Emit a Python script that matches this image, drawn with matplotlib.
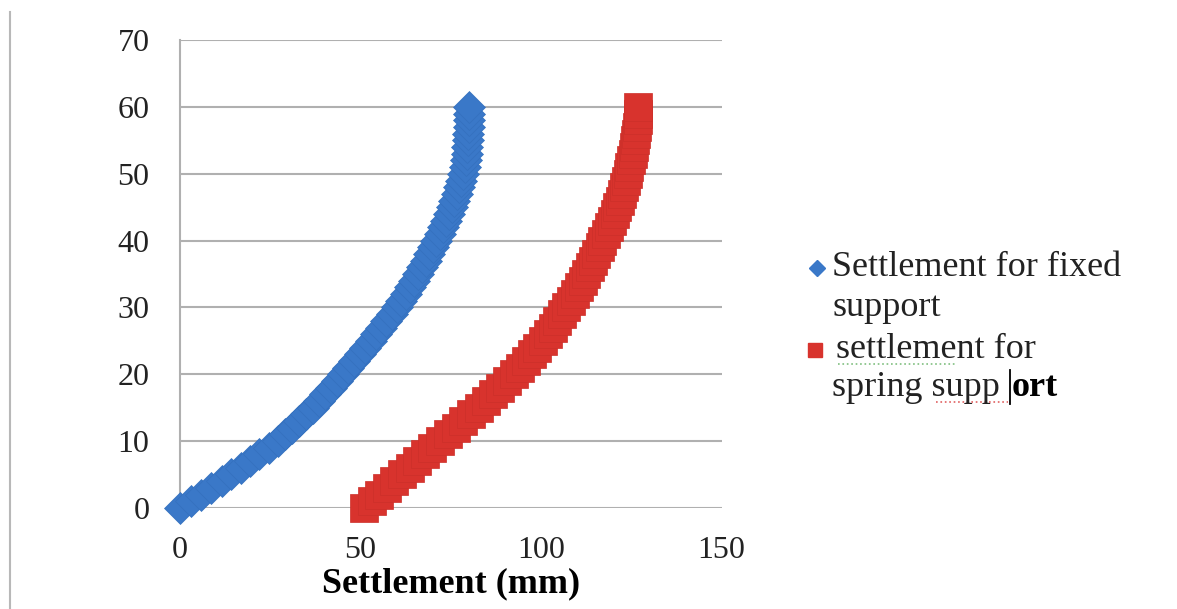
import matplotlib
matplotlib.use("Agg")
import matplotlib.pyplot as plt
from matplotlib.lines import Line2D

plt.rcParams["font.family"] = ["Liberation Serif", "DejaVu Serif"]

# Depth (y axis) and settlement values
depth = list(range(0, 61))

settle_fixed = [
    0.0, 3.0, 5.9, 8.7, 11.5, 14.2, 16.9, 19.5, 22.0, 24.5,
    27.0, 29.0, 31.0, 32.9, 34.8, 36.7, 38.5, 40.2, 41.9, 43.5,
    45.0, 46.6, 48.2, 49.8, 51.3, 52.8, 54.3, 55.7, 57.1, 58.6,
    60.0, 61.3, 62.5, 63.7, 64.9, 66.0, 67.1, 68.1, 69.1, 70.1,
    71.0, 71.9, 72.8, 73.6, 74.4, 75.2, 75.9, 76.6, 77.3, 77.9,
    78.4, 78.8, 79.1, 79.4, 79.6, 79.8, 79.9, 80.0, 80.0, 80.0,
    80.0,
]

settle_spring = [
    51.0, 53.1, 55.2, 57.3, 59.4, 61.5, 63.6, 65.7, 67.8, 69.9,
    72.0, 74.2, 76.4, 78.5, 80.6, 82.7, 84.7, 86.7, 88.7, 90.6,
    92.5, 94.2, 95.9, 97.5, 99.0, 100.5, 101.9, 103.2, 104.5, 105.8,
    107.0, 108.2, 109.3, 110.4, 111.5, 112.5, 113.5, 114.4, 115.3, 116.2,
    117.0, 117.9, 118.8, 119.6, 120.4, 121.1, 121.8, 122.4, 123.0, 123.5,
    124.0, 124.5, 125.0, 125.4, 125.8, 126.1, 126.4, 126.6, 126.8, 126.9,
    127.0,
]

x_ticks = [0, 50, 100, 150]
y_ticks = [0, 10, 20, 30, 40, 50, 60, 70]

BLUE = "#3A78C8"
RED = "#D8332D"

fig = plt.figure(figsize=(11.77, 6.09), dpi=100)
ax = fig.add_axes([0.153, 0.166, 0.460, 0.768])

# thick underlay fills the gaps between the dense markers
ax.plot(settle_fixed, depth, color=BLUE, linewidth=14, solid_capstyle="butt", zorder=2)
ax.plot(settle_spring, depth, color=RED, linewidth=17, solid_capstyle="butt", zorder=2)
ax.plot(settle_fixed, depth, linestyle="none", marker="D", markersize=16, clip_on=False,
        color=BLUE, markeredgecolor="#3470BE", markeredgewidth=0.5, zorder=3)
ax.plot(settle_spring, depth, linestyle="none", marker="s", markersize=20, clip_on=False,
        color=RED, markeredgecolor="#CC2F29", markeredgewidth=0.5, zorder=3)

ax.set_xlim(0, 150)
ax.set_ylim(0, 70)
ax.set_xticks(x_ticks)
ax.set_yticks(y_ticks)
ax.tick_params(axis="both", length=0, labelsize=23, colors="#222222")
ax.tick_params(axis="y", pad=22)
ax.tick_params(axis="x", pad=20)
ax.grid(axis="y", color="#b0b0b0", linewidth=1.5)
ax.set_axisbelow(True)
for side in ["top", "right", "bottom"]:
    ax.spines[side].set_visible(False)
ax.spines["left"].set_color("#b0b0b0")
ax.spines["left"].set_linewidth(1.5)

ax.set_xlabel("Settlement (mm)", fontsize=26, fontweight="bold", labelpad=2)

# Legend drawn by hand to keep its line breaks and editing marks
fig.add_artist(Line2D([817 / 1177], [1 - 268 / 609], marker="D", markersize=8,
                      color=BLUE, linestyle="none", transform=fig.transFigure))
fig.add_artist(Line2D([815 / 1177], [1 - 350 / 609], marker="s", markersize=10,
                      color=RED, linestyle="none", transform=fig.transFigure))

leg_x = 832 / 1177
fs = 26
fig.text(leg_x, 1 - 268 / 609, "Settlement for fixed", fontsize=fs, va="center", color="#222222")
fig.text(leg_x, 1 - 307 / 609, "support", fontsize=fs, va="center", color="#222222")
fig.text(leg_x + 0.003, 1 - 350 / 609, "settlement for", fontsize=fs, va="center", color="#222222")
fig.text(leg_x, 1 - 388 / 609, "spring supp", fontsize=fs, va="center", color="#222222")
fig.text(1012 / 1177, 1 - 388 / 609, "ort", fontsize=fs, va="center",
         fontweight="bold", color="black")

# text cursor and spelling squiggles
fig.add_artist(Line2D([1010 / 1177, 1010 / 1177], [1 - 370 / 609, 1 - 404 / 609],
                      color="black", linewidth=1.3, transform=fig.transFigure))
fig.add_artist(Line2D([838 / 1177, 955 / 1177], [1 - 364 / 609, 1 - 364 / 609],
                      color="#7fbf7f", linewidth=1.2, linestyle=":", transform=fig.transFigure))
fig.add_artist(Line2D([936 / 1177, 1008 / 1177], [1 - 402 / 609, 1 - 402 / 609],
                      color="#e06060", linewidth=1.2, linestyle=":", transform=fig.transFigure))

# page border on the left
fig.add_artist(Line2D([10 / 1177, 10 / 1177], [0, 1 - 12 / 609],
                      color="#b8b8b8", linewidth=1.5, transform=fig.transFigure))

fig.savefig("out.png", dpi=100)
